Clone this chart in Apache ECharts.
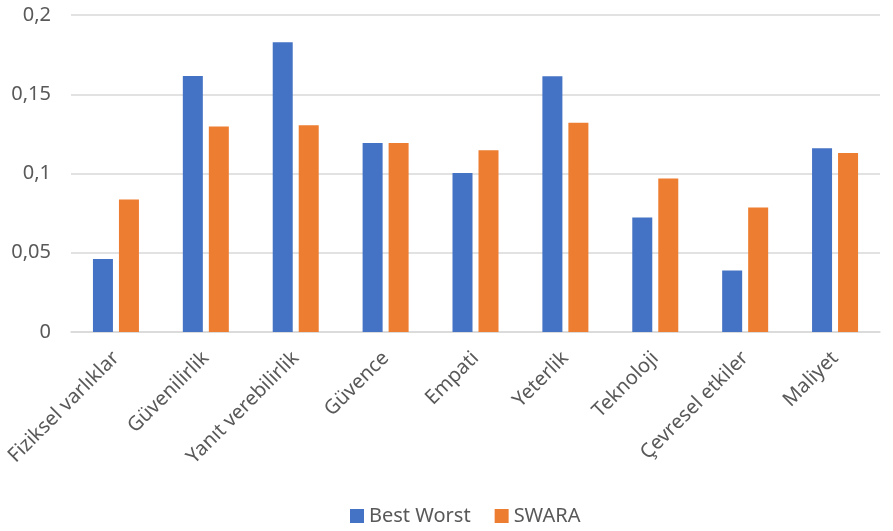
<!DOCTYPE html>
<html>
<head>
<meta charset="UTF-8">
<title>Best Worst / SWARA</title>
<script src="https://cdn.jsdelivr.net/npm/echarts@6/dist/echarts.min.js"></script>
<style>
  html, body { margin: 0; padding: 0; background: #fff; }
  #view { width: 893px; height: 531px; }
</style>
</head>
<body>
<div id="view"></div>
<script>
// kriterler
var categories = ['Fiziksel varlıklar', 'Güvenilirlik', 'Yanıt verebilirlik', 'Güvence', 'Empati',
                  'Yeterlik', 'Teknoloji', 'Çevresel etkiler', 'Maliyet'];
var bestWorst = [0.0461, 0.1615, 0.1828, 0.1192, 0.1003, 0.1613, 0.0723, 0.0388, 0.1160];
var swara     = [0.0836, 0.1297, 0.1304, 0.1192, 0.1146, 0.1320, 0.0969, 0.0786, 0.1129];
var yTicks = [0, 0.05, 0.1, 0.15, 0.2];

var font = 'Noto Sans';
var textColor = '#595959';
var gridColor = '#d9d9d9';

var myChart = echarts.init(document.getElementById('view'));

var option = {
    animation: false,
    textStyle: { fontFamily: font },
    legend: {
        bottom: 0,
        left: 345,
        itemWidth: 14,
        itemHeight: 14,
        itemGap: 24,
        icon: 'rect',
        textStyle: { fontFamily: font, fontSize: 20, color: textColor },
        data: ['Best Worst', 'SWARA']
    },
    grid: {
        left: 71,
        right: 13,
        top: 15,
        bottom: 199,
        containLabel: false
    },
    xAxis: {
        type: 'category',
        data: categories,
        axisTick: { show: false },
        axisLine: { lineStyle: { color: gridColor, width: 1.5 } },
        axisLabel: {
            rotate: 45,
            interval: 0,
            margin: 23,
            fontFamily: font,
            fontSize: 20,
            color: textColor
        }
    },
    yAxis: {
        type: 'value',
        min: 0,
        max: 0.2,
        interval: 0.05,
        axisLine: { show: false },
        axisTick: { show: false },
        splitLine: { lineStyle: { color: gridColor, width: 1.5 } },
        axisLabel: {
            margin: 20,
            fontFamily: font,
            fontSize: 20,
            color: textColor,
            formatter: function (v) {
                var t = yTicks.filter(function (x) { return Math.abs(x - v) < 1e-9; });
                return t.length ? String(+v.toFixed(2)).replace('.', ',') : '';
            }
        }
    },
    series: [
        {
            name: 'Best Worst',
            type: 'bar',
            barWidth: 20,
            barGap: '30%',
            itemStyle: { color: '#4472C4' },
            data: bestWorst
        },
        {
            name: 'SWARA',
            type: 'bar',
            barWidth: 20,
            barGap: '30%',
            itemStyle: { color: '#ED7D31' },
            data: swara
        }
    ]
};
myChart.setOption(option);
</script>
</body>
</html>
